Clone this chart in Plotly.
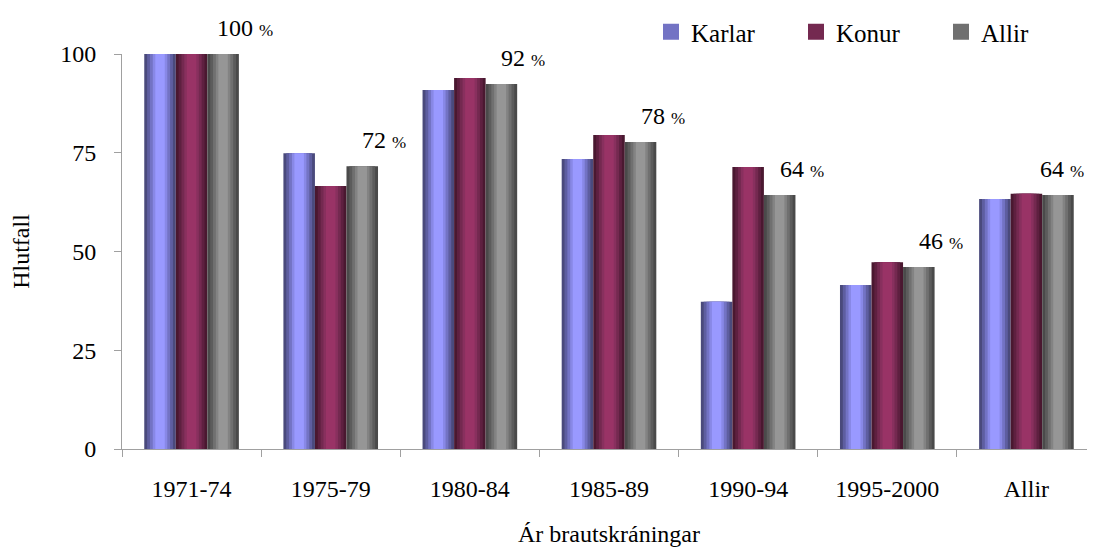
import plotly.graph_objects as go

categories = ["1971-74", "1975-79", "1980-84", "1985-89", "1990-94", "1995-2000", "Allir"]
karlar = [100, 74.9, 90.9, 73.4, 37.3, 41.5, 63.3]
konur = [100, 66.6, 93.9, 79.5, 71.4, 47.3, 64.6]
allir = [100, 71.6, 92.4, 77.7, 64.3, 46.1, 64.3]
series_names = ["Karlar", "Konur", "Allir"]
y_ticks = [0, 25, 50, 75, 100]

# colour layers from bar edge to bar centre (cylinder-like shading)
shades = {
    "Karlar": ["#4a4a7c", "#5e5ea0", "#7373c4", "#8888e6", "#9999ff"],
    "Konur": ["#4a1830", "#5e2040", "#742950", "#88305e", "#993366"],
    "Allir": ["#4a4a4a", "#5c5c5c", "#707070", "#838383", "#969696"],
}
fractions = [1.0, 0.82, 0.64, 0.46, 0.3]

FONT = "Liberation Serif"
FS = 24
W, H = 1095, 552
ML, MR = 114, 7
group_w = 0.68
bar_w = group_w / 3
cat_px = (W - ML - MR) / len(categories)

fig = go.Figure()
for s, (name, vals) in enumerate(zip(series_names, [karlar, konur, allir])):
    center = -group_w / 2 + bar_w * (s + 0.5)
    for k, (f, col) in enumerate(zip(fractions, shades[name])):
        w = bar_w * f
        fig.add_trace(go.Bar(
            x=categories, y=vals, name=name,
            width=[w] * len(categories), offset=[center - w / 2] * len(categories),
            marker=dict(color=col, line=dict(width=0)),
            showlegend=False, legendgroup=name, hoverinfo="skip",
        ))
    # legend entry with a larger square swatch
    fig.add_trace(go.Scatter(
        x=[None], y=[None], mode="markers", name=name, legendgroup=name,
        marker=dict(symbol="square", size=18, color=shades[name][2], line=dict(width=0)),
    ))

label_half_w = 34
for i, (c, v) in enumerate(zip(categories, allir)):
    shift = bar_w * cat_px + 22
    # keep the label inside the plot (as the original chart does for the last one)
    cx = ML + (i + 0.5) * cat_px
    shift = min(shift, (W - MR) - label_half_w - cx)
    fig.add_annotation(
        x=c, y=v, xref="x", yref="y",
        text=f"{round(v)} <span style='font-size:17px'>%</span>",
        showarrow=False, xanchor="center", yanchor="bottom",
        xshift=shift, yshift=11,
        font=dict(family=FONT, size=FS, color="black"),
    )

fig.update_layout(
    barmode="overlay",
    width=W, height=H,
    margin=dict(l=ML, r=MR, t=46, b=111, autoexpand=False),
    paper_bgcolor="white", plot_bgcolor="white",
    font=dict(family=FONT, size=FS, color="black"),
    legend=dict(orientation="h", x=643 / W, y=1 - 1 / H, xref="container", yref="container",
                xanchor="left", yanchor="top",
                font=dict(family=FONT, size=25, color="black"),
                bgcolor="rgba(0,0,0,0)", itemwidth=30, traceorder="normal",
                entrywidth=100, entrywidthmode="pixels"),
    xaxis=dict(
        type="category", showgrid=False, showline=True, linecolor="#a0a0a0", linewidth=1,
        ticks="outside", tickson="boundaries", ticklen=7, tickcolor="#a0a0a0",
        ticklabelstandoff=18,
        title=dict(text="Ár brautskráningar", font=dict(family=FONT, size=FS), standoff=24),
    ),
    yaxis=dict(
        range=[0, 100], tickvals=y_ticks, showgrid=False, zeroline=False,
        showline=True, linecolor="#a0a0a0", linewidth=1,
        ticks="outside", ticklen=7, tickcolor="#a0a0a0", ticklabelstandoff=13,
        title=dict(text="Hlutfall", font=dict(family=FONT, size=FS), standoff=31),
    ),
)

fig.write_html("out.html")
